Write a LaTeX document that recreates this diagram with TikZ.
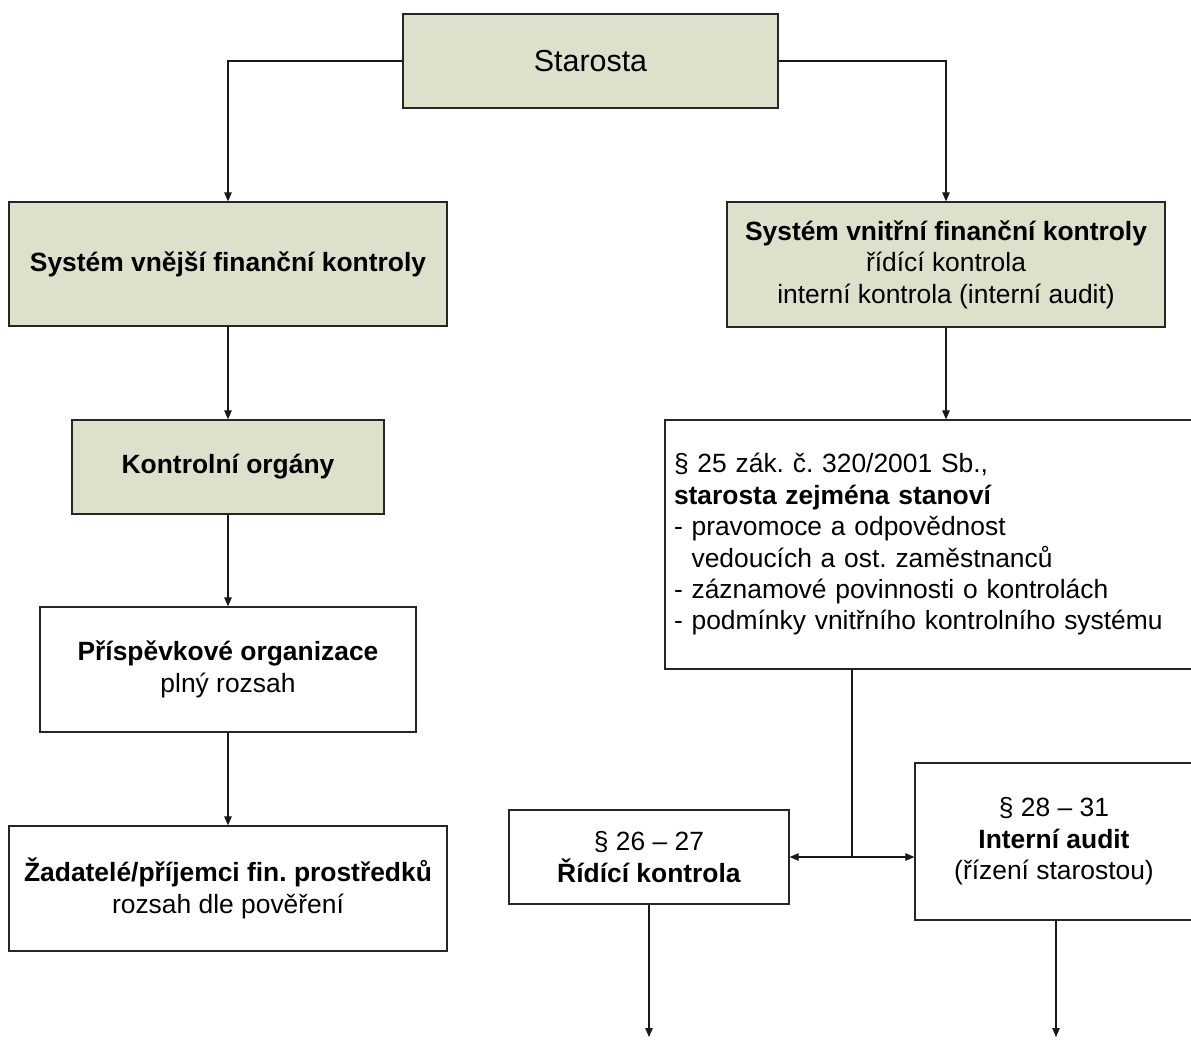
\documentclass[tikz,border=0pt]{standalone}
\usepackage{fontspec}
\setmainfont{Liberation Sans}
\frenchspacing
\usetikzlibrary{arrows.meta}
\definecolor{boxgreen}{HTML}{DDE0CA}
\tikzset{
  base/.style={draw=black!85, line width=1.3pt, inner sep=0pt, align=center,
    font=\fontsize{26.4}{31.4}\selectfont},
  greenbox/.style={base, fill=boxgreen},
  whitebox/.style={base, fill=white},
  conn/.style={line width=1.1pt, draw=black!90},
  arr/.style={conn, -{Triangle[length=9pt,width=7.5pt]}},
}
\begin{document}
\begin{tikzpicture}[x=1pt,y=-1pt]
\useasboundingbox (0,0) rectangle (1191,1042);
\clip (0,0) rectangle (1191,1042);
\fill[white] (0,0) rectangle (1191,1042);

\node[greenbox, minimum width=375pt, minimum height=94pt,
  font=\fontsize{30.4}{36}\selectfont] (star) at (590.5,61) {Starosta};

\node[greenbox, minimum width=438pt, minimum height=124pt] (ext) at (228,264)
  {\textbf{Systém vnější finanční kontroly}};
\node[greenbox, minimum width=438pt, minimum height=125pt] (int) at (946,264.5)
  {\textbf{Systém vnitřní finanční kontroly}\\řídící kontrola\\interní kontrola (interní audit)};

\node[greenbox, minimum width=312pt, minimum height=94pt] (ko) at (228,467)
  {\textbf{Kontrolní orgány}};
\node[whitebox, minimum width=376pt, minimum height=125pt] (pris) at (228,669.5)
  {\textbf{Příspěvkové organizace}\\plný rozsah};
\node[whitebox, minimum width=438pt, minimum height=125pt] (zad) at (228,888.5)
  {\textbf{Žadatelé/příjemci fin. prostředků}\\rozsah dle pověření};

\node[whitebox, minimum height=249pt, text width=517pt, inner xsep=9pt, align=left] (s25) at (932.5,544.5)
  {§ 25 zák. č. 320/2001 Sb.,\\
   \textbf{starosta zejména stanoví}\\
   - pravomoce a odpovědnost\\
   \phantom{- }vedoucích a ost. zaměstnanců\\
   - záznamové povinnosti o kontrolách\\
   - podmínky vnitřního kontrolního systému};

\node[whitebox, minimum width=280pt, minimum height=94pt] (rid) at (649,857)
  {§ 26 – 27\\\textbf{Řídící kontrola}};
\node[whitebox, minimum width=278pt, minimum height=157pt] (ia) at (1054,841.5)
  {§ 28 – 31\\\textbf{Interní audit}\\(řízení starostou)};

\coordinate (jn) at (852,857);
\coordinate (ridend) at (649,1037);
\coordinate (iaend) at (1056,1037);

\draw[arr] (star.west) -| (ext.north);
\draw[arr] (star.east) -| (int.north);
\draw[arr] (ext.south) -- (ko.north);
\draw[arr] (ko.south) -- (pris.north);
\draw[arr] (pris.south) -- (zad.north);
\draw[arr] (int.south) -- (int.south |- s25.north);
\draw[conn] (s25.south -| jn) -- (jn);
\draw[arr] (jn) -- (rid.east);
\draw[arr] (jn) -- (jn -| ia.west);
\draw[arr] (rid.south) -- (ridend);
\draw[arr] (ia.south -| iaend) -- (iaend);
\end{tikzpicture}
\end{document}
